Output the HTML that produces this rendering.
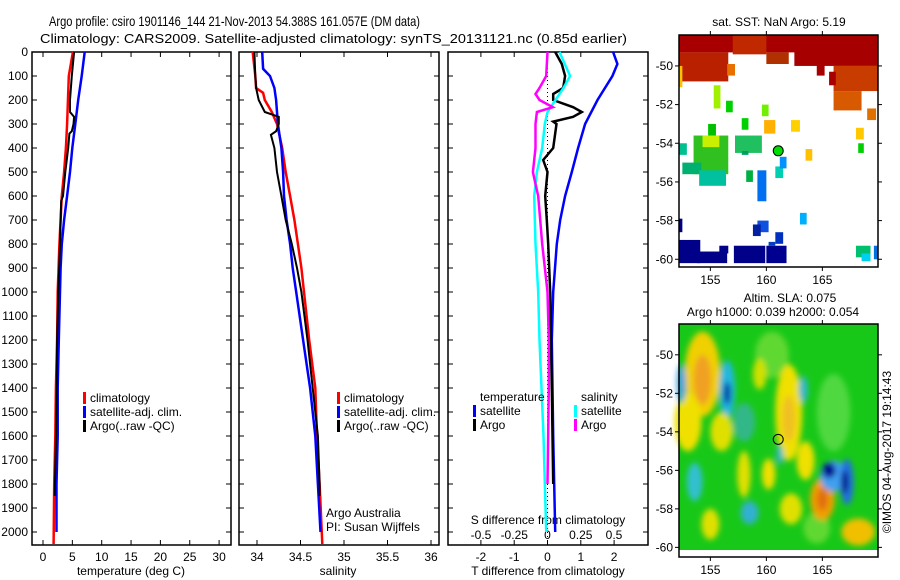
<!DOCTYPE html>
<html><head><meta charset="utf-8"><style>
html,body{margin:0;padding:0;background:#fff;}
svg{display:block;font-family:"Liberation Sans",sans-serif;}
text{font-size:12px;fill:#000;}
</style></head><body>
<svg id="fig" width="900" height="580" viewBox="0 0 900 580" xmlns="http://www.w3.org/2000/svg">
<text x="49" y="26" textLength="371" lengthAdjust="spacingAndGlyphs" style="font-size:14px">Argo profile: csiro 1901146_144 21-Nov-2013 54.388S 161.057E (DM data)</text>
<text x="40" y="43" textLength="587" lengthAdjust="spacingAndGlyphs" style="font-size:13px">Climatology: CARS2009. Satellite-adjusted climatology: synTS_20131121.nc (0.85d earlier)</text>
<g id="plots"></g>
<g id="maps"></g>
<text transform="translate(891,452) rotate(-90)" text-anchor="middle" style="font-size:12px">©IMOS 04-Aug-2017 19:14:43</text>
</svg>
<script>
// ---------- data ----------
const depthTicks=[0,100,200,300,400,500,600,700,800,900,1000,1100,1200,1300,1400,1500,1600,1700,1800,1900,2000];
const tempTicks=[0,5,10,15,20,25,30];
const salTicks=[34,34.5,35,35.5,36];
const tdiffTicks=[-2,-1,0,1,2];
const sdiffTicks=[-0.5,-0.25,0,0.25,0.5];
const sdiffLabels=["-0.5","-0.25","0","0.25","0.5"];

const tClimDepth=[0,100,300,400,500,600,700,800,1000,1200,1400,1600,1800,2050];
const tClim=[5.1,4.4,4.1,3.9,3.6,3.2,3.0,2.8,2.5,2.4,2.2,2.1,1.9,1.8];
const tSatDepth=[0,100,200,300,400,500,600,700,800,900,1000,1200,1400,1600,1800,2000];
const tSat=[7.1,6.6,6.0,5.5,5.0,4.6,4.1,3.6,3.2,3.0,2.9,2.7,2.5,2.5,2.3,2.3];
const tArgoDepth=[0,100,200,250,270,300,330,340,400,500,600,620,800,1000,1200,1500,1850];
const tArgo=[5.3,4.9,4.6,4.6,5.3,5.2,4.9,4.5,4.3,3.8,3.4,3.1,2.9,2.6,2.4,2.3,2.0];

const sClimDepth=[0,100,150,170,200,250,300,400,500,600,700,800,900,1000,1200,1400,1600,1800,2050];
const sClim=[33.95,33.98,33.99,34.07,34.09,34.17,34.23,34.29,34.33,34.38,34.43,34.47,34.51,34.54,34.60,34.67,34.69,34.72,34.75];
const sSatDepth=[0,70,100,150,200,300,400,500,600,700,800,900,1000,1200,1400,1600,1800,2000];
const sSat=[34.06,34.07,34.15,34.20,34.22,34.24,34.28,34.30,34.31,34.34,34.38,34.41,34.45,34.53,34.61,34.67,34.70,34.73];
const sArgoDepth=[0,100,150,200,250,270,300,330,345,400,500,600,700,800,900,1000,1200,1400,1600,1800,1850];
const sArgo=[33.97,33.98,33.99,34.02,34.09,34.25,34.25,34.22,34.16,34.20,34.23,34.28,34.33,34.40,34.46,34.51,34.58,34.64,34.70,34.72,34.72];

const dTSatDepth=[0,50,100,200,300,400,500,600,700,800,1000,1200,1600,2000];
const dTSat=[1.97,2.1,1.95,1.5,1.13,0.92,0.73,0.53,0.38,0.28,0.17,0.13,0.17,0.23];
const dTArgoDepth=[0,50,100,150,175,200,230,250,270,290,300,400,450,500,600,700,800,1000,1400,1800];
const dTArgo=[0.23,0.43,0.53,0.47,0.17,0.17,0.77,1.03,0.77,0.17,0.27,0.17,-0.13,0,-0.07,-0.02,0.02,0.08,0.13,0.17];
const dSSatDepth=[0,50,100,150,200,250,300,400,500,600,800,1000,1200,1600,2000];
const dSSat=[0.09,0.13,0.17,0.12,0.06,0,-0.02,-0.04,-0.08,-0.10,-0.09,-0.07,-0.06,-0.03,-0.01];
const dSArgoDepth=[0,100,150,175,200,230,250,300,400,500,550,600,800,1000,1200,1400,1800];
const dSArgo=[0,-0.01,-0.06,-0.09,-0.06,0.04,-0.08,-0.09,-0.09,-0.11,-0.09,-0.07,-0.04,0,0.01,0.01,0];

// ---------- helpers ----------
const NS="http://www.w3.org/2000/svg";
const plots=document.getElementById('plots');
const maps=document.getElementById('maps');
function mk(tag,attrs,parent,txt){const e=document.createElementNS(NS,tag);for(const k in attrs)e.setAttribute(k,attrs[k]);if(txt!==undefined)e.textContent=txt;(parent||plots).appendChild(e);return e;}
const Y0=52,Y1=545;
function yD(d){return Y0+0.24*d;}
function xT(t){return 43+5.87*t;}
function xS(s){return 257+87*(s-34);}
function xDT(t){return 547.5+33.3*t;}
function xDS(s){return 547.5+133*s;}

function panel(x0,x1,name){
  const r=mk('rect',{x:x0,y:Y0,width:x1-x0,height:Y1-Y0,fill:'none',stroke:'#000','stroke-width':1.5});
  
  
  depthTicks.forEach(d=>{
    const y=yD(d);
    mk('line',{x1:x0,y1:y,x2:x0+5,y2:y,stroke:'#000'});
    mk('line',{x1:x1-5,y1:y,x2:x1,y2:y,stroke:'#000'});
  });
}
function series(xs,ds,xf,color,w,name){
  let pts=[];
  for(let i=0;i<xs.length;i++){pts.push(xf(xs[i]).toFixed(1)+','+yD(ds[i]).toFixed(1));}
  const p=mk('polyline',{points:pts.join(' '),fill:'none',stroke:color,'stroke-width':w,'stroke-linejoin':'miter'});
  
  
}
function xAxis(ticks,labels,xf,y,name,top){
  ticks.forEach((t,i)=>{
    const x=xf(t);
    mk('line',{x1:x,y1:Y1,x2:x,y2:Y1-5,stroke:'#000'});
    if(top)mk('line',{x1:x,y1:Y0,x2:x,y2:Y0+5,stroke:'#000'});
    const tx=mk('text',{x:x,y:y,'text-anchor':'middle'},plots,labels[i]);
    
    
  });
}

panel(32,231,'temperature-panel');
panel(239,439,'salinity-panel');
panel(448,648,'difference-panel');

depthTicks.forEach(d=>{
  const t=mk('text',{x:28,y:yD(d)+4,'text-anchor':'end'},plots,String(d));
  
  
});

xAxis(tempTicks,tempTicks.map(String),xT,561,'temperature-tick-label',true);
xAxis(salTicks,salTicks.map(String),xS,561,'salinity-tick-label',true);
xAxis(tdiffTicks,tdiffTicks.map(String),xDT,561,'t-diff-tick-label',true);
sdiffTicks.forEach((s,i)=>{
  const t=mk('text',{x:xDS(s),y:539,'text-anchor':'middle'},plots,sdiffLabels[i]);
  
  
});

[[131,575,'temperature (deg C)','temperature-axis-title'],[338,575,'salinity','salinity-axis-title'],[548,575,'T difference from climatology','t-diff-axis-title'],[548,524,'S difference from climatology','s-diff-axis-title']].forEach(a=>{
  const t=mk('text',{x:a[0],y:a[1],'text-anchor':'middle'},plots,a[2]);
  
  
});

const zl=mk('line',{x1:xDT(0),y1:Y0,x2:xDT(0),y2:Y1,stroke:'#000','stroke-dasharray':'1,3','stroke-width':1});



series(tClim,tClimDepth,xT,'#ff0000',2.5,'temp-climatology-line');
series(tSat,tSatDepth,xT,'#0000ff',2.5,'temp-satellite-line');
series(tArgo,tArgoDepth,xT,'#000000',2,'temp-argo-line');
series(sClim,sClimDepth,xS,'#ff0000',2.5,'sal-climatology-line');
series(sSat,sSatDepth,xS,'#0000ff',2.5,'sal-satellite-line');
series(sArgo,sArgoDepth,xS,'#000000',2,'sal-argo-line');
series(dTSat,dTSatDepth,xDT,'#0000ff',2.5,'tdiff-satellite-line');
series(dTArgo,dTArgoDepth,xDT,'#000000',2.5,'tdiff-argo-line');
series(dSSat,dSSatDepth,xDS,'#00ffff',2.5,'sdiff-satellite-line');
series(dSArgo,dSArgoDepth,xDS,'#ff00ff',2.5,'sdiff-argo-line');

function legend(x,y,items,name){
  items.forEach((it,i)=>{
    const yy=y+i*14;
    if(it[1]){mk('rect',{x:x,y:yy-10,width:3,height:12,fill:it[1]});}
    const t=mk('text',{x:x+7,y:yy},plots,it[0]);
    
    
  });
}
legend(83,402,[['climatology','#ff0000'],['satellite-adj. clim.','#0000ff'],['Argo(..raw -QC)','#000']],'temp-legend-entry');
legend(337,402,[['climatology','#ff0000'],['satellite-adj. clim.','#0000ff'],['Argo(..raw -QC)','#000']],'sal-legend-entry');
legend(473,401,[['temperature',null],['satellite','#0000ff'],['Argo','#000']],'tdiff-legend-entry');
legend(574,401,[['salinity',null],['satellite','#00ffff'],['Argo','#ff00ff']],'sdiff-legend-entry');
[['Argo Australia',517],['PI: Susan Wijffels',531]].forEach(a=>{
  const t=mk('text',{x:326,y:a[1]},plots,a[0]);
  
  
});

// ---------- maps ----------
function mapFrame(y0,y1,latTop,latBot,name){
  const X0=679,X1=878;
  const lonX=l=>X0+(l-152.2)*11.2;
  const latY=l=>y0+(latTop-l)*(y1-y0)/(latTop-latBot);
  return {X0,X1,y0,y1,lonX,latY,finish:function(){
    const r=mk('rect',{x:X0,y:y0,width:X1-X0,height:y1-y0,fill:'none',stroke:'#000','stroke-width':1.5},maps);
    
    
    [155,160,165].forEach(l=>{const x=lonX(l);
      mk('line',{x1:x,y1:y0,x2:x,y2:y0-4,stroke:'#000'},maps);
      mk('line',{x1:x,y1:y1,x2:x,y2:y1+4,stroke:'#000'},maps);
      const t=mk('text',{x:x,y:y1+17,'text-anchor':'middle'},maps,String(l));
      
      });
    [-50,-52,-54,-56,-58,-60].forEach(l=>{const y=latY(l);
      mk('line',{x1:X0,y1:y,x2:X0-4,y2:y,stroke:'#000'},maps);
      mk('line',{x1:X1,y1:y,x2:X1+4,y2:y,stroke:'#000'},maps);
      const t=mk('text',{x:X0-6,y:y+4,'text-anchor':'end'},maps,String(l));
      
      });
    const c=mk('circle',{cx:lonX(161.06),cy:latY(-54.39),r:5,fill:name==='sst-map'?'#00dd00':'none',stroke:'#000','stroke-width':1},maps);
    
    
  }};
}
const m1=mapFrame(35,267,-48.4,-60.4,'sst-map');
const sstBlocks=[
 [152.2,-48.4,170,-49.3,'#a80000'],[152.2,-49.3,156.6,-50.8,'#b82000'],[157,-48.4,160,-49.4,'#c02800'],[160,-49.3,162,-49.9,'#b03000'],
 [162.5,-48.4,170,-50.0,'#a60000'],[166,-50,170,-51.3,'#c83c00'],[166,-51.3,168.5,-52.3,'#d85a00'],[156.5,-49.9,157.2,-50.5,'#e87000'],
 [164.5,-49.9,165.2,-50.5,'#a80000'],[165.6,-50.3,166.2,-51,'#a80000'],[169,-52.2,169.8,-52.8,'#e07000'],
 [152.2,-50,152.5,-51.1,'#ffc000'],[155.3,-51,155.9,-52.2,'#a0f000'],[156.4,-51.8,157,-52.4,'#00d000'],[159.6,-52.0,160.2,-52.6,'#70f000'],
 [157.8,-52.7,158.4,-53.3,'#00d000'],[159.8,-52.8,160.8,-53.5,'#ffb000'],[162.2,-52.8,163,-53.4,'#ffd000'],[168,-53.2,168.7,-53.8,'#ffc800'],
 [154.8,-53,155.5,-53.6,'#00c000'],[153.5,-53.6,156.6,-55.6,'#30c020'],[154.3,-53.6,155.8,-54.2,'#c8f000'],[152.2,-54,152.9,-54.6,'#00c090'],
 [152.5,-55,154.2,-55.6,'#00b070'],[154,-55.4,156.4,-56.2,'#00c0a0'],[157.2,-53.6,159.6,-54.5,'#20c060'],[157.8,-54.4,158.4,-54.6,'#00a060'],
 [168.2,-54,168.7,-54.5,'#00d000'],[163.5,-54.3,164.1,-54.9,'#ffc000'],[160.8,-55.2,161.5,-55.8,'#00d0b0'],[161.2,-54.7,161.8,-55.3,'#0090ff'],
 [158.2,-55.4,158.8,-56,'#00b040'],[159.2,-55.4,160,-57,'#0070f0'],[163,-57.6,163.6,-58.2,'#00b0ff'],[159.2,-58.0,160.2,-58.6,'#1050e0'],
 [158.8,-58.2,159.5,-58.8,'#0020a0'],[160.8,-58.6,161.5,-59.2,'#0030c0'],[152.2,-57.9,152.5,-58.6,'#000080'],
 [152.2,-59,154.1,-60.2,'#000088'],[153.8,-59.6,156.5,-60.2,'#000088'],[155.8,-59.3,156.6,-59.7,'#000088'],[157.1,-59.3,159.9,-60.2,'#000088'],
 [160,-59.3,161.8,-60.2,'#000090'],[160.2,-59.1,160.8,-59.3,'#0040c0'],[168,-59.3,169.3,-59.9,'#00c070'],[168.5,-59.7,169.3,-60.1,'#00d0f0'],[169.6,-59.3,170,-60,'#0070e0']
];
sstBlocks.forEach(b=>{
  const r=mk('rect',{x:m1.lonX(b[0]),y:m1.latY(b[1]),width:m1.lonX(b[2])-m1.lonX(b[0]),height:m1.latY(b[3])-m1.latY(b[1]),fill:b[4]},maps);
  
  
});
m1.finish();
(function(){const t=mk('text',{x:779,y:26,'text-anchor':'middle'},maps,'sat. SST: NaN Argo: 5.19');})();

const m2=mapFrame(324,557,-48.4,-60.5,'sla-map');
const bg=mk('rect',{x:679,y:324,width:199,height:226,fill:'#18c818'},maps);


const defs=mk('defs',{},maps);
const f=mk('filter',{id:'bl',x:'-50%',y:'-50%',width:'200%',height:'200%'},defs);
mk('feGaussianBlur',{stdDeviation:3},f);
const slaBlobs=[
 [160.5,-50,1.5,1.2,'#60d830'],[166,-53,1.5,2,'#50d840'],[158,-53.5,1,1,'#30b888'],[164.5,-59,1.2,0.8,'#60d830'],
 [154.3,-51,1.6,2.2,'#f0d000'],[154.3,-51.3,0.8,1.3,'#f0a020'],[153,-53.5,1.2,1.5,'#f0e000'],[156.5,-51.8,0.7,1.5,'#20b8e0'],[156.5,-52,0.3,0.6,'#0020a0'],
 [152.4,-51.5,0.4,1,'#40a0e0'],[162,-53,1.2,2.5,'#f0e000'],[162,-53.3,0.6,1.2,'#f0c020'],[156,-54,1,1,'#e0e000'],[158,-56.2,0.6,1.2,'#e0e000'],
 [160.2,-56.2,0.6,0.8,'#f0e000'],[163.5,-55.5,0.8,1,'#f0e000'],[165,-57.5,1.1,1.1,'#f0a000'],[165,-57.5,0.5,0.6,'#e07010'],
 [166,-56.3,1.2,0.8,'#40a0f0'],[165.6,-56,0.6,0.4,'#001090'],[167.2,-56.6,0.6,1.2,'#2070e0'],[167,-56.6,0.3,0.6,'#001080'],
 [168.2,-59.2,1.5,0.7,'#f0c000'],[153.6,-56.6,0.7,1,'#30c0d0'],[158.5,-58.2,0.8,0.6,'#30b0d0'],[162.2,-58,1,0.8,'#e0e000'],[155,-58.8,0.8,0.8,'#e0e000'],
 [163.3,-51.8,0.4,0.7,'#30b8d0'],[161.2,-55.2,0.3,0.5,'#30b8d0'],[159.4,-51,0.6,0.8,'#d0e000']
];
const gb=mk('g',{filter:'url(#bl)'},maps);
slaBlobs.forEach(b=>{
  const e=mk('ellipse',{cx:m2.lonX(b[0]),cy:m2.latY(b[1]),rx:b[2]*11.2,ry:b[3]*19.3,fill:b[4]},gb);
  
  
});
mk('rect',{x:679,y:550,width:199,height:7,fill:'#fff'},maps);
m2.finish();
[['Altim. SLA: 0.075',790,302],['Argo h1000: 0.039 h2000: 0.054',773,316]].forEach(a=>{
  const t=mk('text',{x:a[1],y:a[2],'text-anchor':'middle'},maps,a[0]);
  
  
});
</script>
</body></html>
